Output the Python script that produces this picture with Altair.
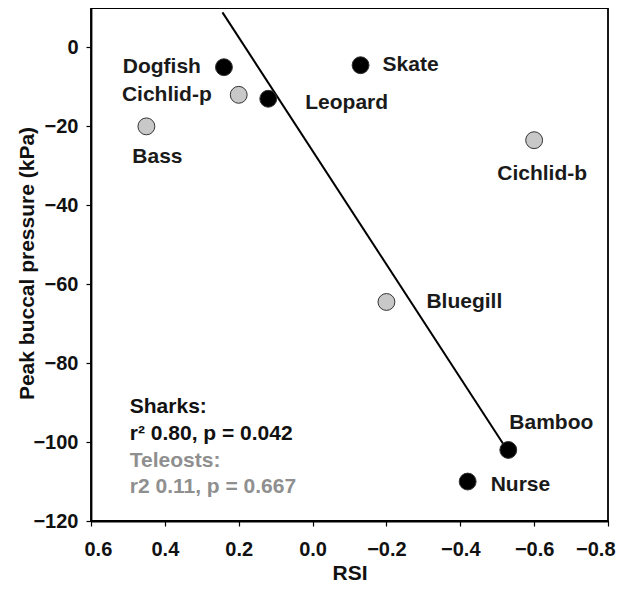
import altair as alt
import pandas as pd

species = ["Dogfish", "Cichlid-p", "Leopard", "Skate", "Bass", "Cichlid-b", "Bluegill", "Bamboo", "Nurse"]
group = ["Sharks", "Teleosts", "Sharks", "Sharks", "Teleosts", "Teleosts", "Teleosts", "Sharks", "Sharks"]
rsi = [0.24, 0.20, 0.12, -0.13, 0.45, -0.60, -0.20, -0.53, -0.42]
pressure = [-5, -12, -13, -4.5, -20, -23.5, -64.5, -102, -110]

fit_rsi = [0.244, -0.527]
fit_pressure = [8.9, -102]

stat_lines = ["Sharks:", "r\u00b2 0.80, p = 0.042", "Teleosts:", "r2 0.11, p = 0.667"]
stat_group = ["Sharks", "Sharks", "Teleosts", "Teleosts"]
stat_y = [-91.2, -98.0, -104.8, -111.3]
stat_x = [0.495] * 4

x_ticks = [0.6, 0.4, 0.2, 0.0, -0.2, -0.4, -0.6, -0.8]
y_ticks = [0, -20, -40, -60, -80, -100, -120]

pts = pd.DataFrame({"species": species, "group": group, "rsi": rsi, "pressure": pressure})
fit = pd.DataFrame({"rsi": fit_rsi, "pressure": fit_pressure})
stats = pd.DataFrame({"txt": stat_lines, "group": stat_group, "rsi": stat_x, "pressure": stat_y})

FONT = "Liberation Sans"
xs = alt.Scale(domain=[-0.8, 0.6], reverse=True, nice=False, zero=False)
ys = alt.Scale(domain=[-120, 10], nice=False, zero=False)
xenc = alt.X("rsi:Q", scale=xs, title="RSI",
             axis=alt.Axis(values=x_ticks, format=".1f", grid=False, tickSize=5,
                           labelPadding=13, titlePadding=3, labelFlush=True,
                           labelFlushOffset=7))
yenc = alt.Y("pressure:Q", scale=ys, title="Peak buccal pressure (kPa)",
             axis=alt.Axis(values=y_ticks, format="d", grid=False, tickSize=5,
                           labelPadding=8, titleX=-64, titleY=255,
                           titleBaseline="middle", titleAngle=270))

color_scale = alt.Scale(domain=["Sharks", "Teleosts"], range=["#000000", "#c8c8c8"])

line = alt.Chart(fit).mark_line(color="black", strokeWidth=2).encode(x=xenc, y=yenc)

points = alt.Chart(pts).mark_point(filled=True, size=285, opacity=1, stroke="#333333",
                                   strokeWidth=1, shape="circle").encode(
    x=xenc, y=yenc,
    fill=alt.Fill("group:N", scale=color_scale, legend=None),
)

offsets = {
    "Dogfish": ("right", -23, 0),
    "Cichlid-p": ("right", -27, 0),
    "Leopard": ("left", 37, 4),
    "Skate": ("left", 22, 0),
    "Bass": ("center", 11, 31),
    "Cichlid-b": ("center", 8, 34),
    "Bluegill": ("left", 40, 0),
    "Bamboo": ("left", 1, -27),
    "Nurse": ("left", 23, 3),
}

label_layers = []
for name, (al, dx, dy) in offsets.items():
    label_layers.append(
        alt.Chart(pts).transform_filter(alt.datum.species == name).mark_text(
            align=al, baseline="middle", dx=dx, dy=dy, font=FONT, fontWeight="bold",
            fontSize=21, color="#1a1a1a").encode(x=xenc, y=yenc, text="species:N")
    )

stat_text = alt.Chart(stats).mark_text(align="left", baseline="middle", font=FONT,
                                       fontWeight="bold", fontSize=21).encode(
    x=xenc, y=yenc, text="txt:N",
    color=alt.Color("group:N", scale=alt.Scale(domain=["Sharks", "Teleosts"],
                                               range=["#111111", "#8f8f8f"]), legend=None),
)

chart = alt.layer(line, points, *label_layers, stat_text).properties(
    width=517, height=513,
    autosize=alt.AutoSizeParams(type="none"),
    padding={"left": 83, "top": 0, "right": 10, "bottom": 69},
).configure_view(stroke="black", strokeWidth=1.8).configure_axis(
    domainColor="black", domainWidth=1.8, tickColor="black", tickWidth=1.2,
    labelFont=FONT, labelFontSize=20, labelFontWeight="bold", labelColor="#111111",
    titleFont=FONT, titleFontSize=21, titleFontWeight="bold", titleColor="#111111",
)

chart.save("out.html", embed_options={"renderer": "svg", "actions": False})
